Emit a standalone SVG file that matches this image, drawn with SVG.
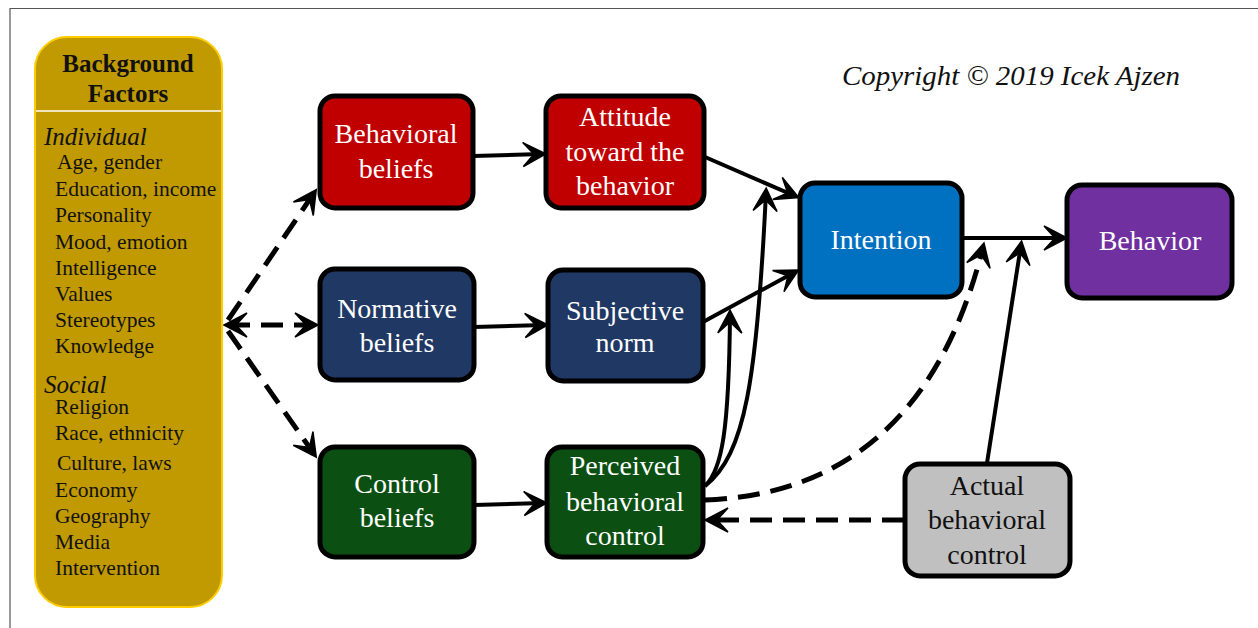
<svg xmlns="http://www.w3.org/2000/svg" width="1258" height="628" viewBox="0 0 1258 628">
<style>
  .node { stroke: #000; stroke-width: 5; }
  .lbl { font-family: "Liberation Serif", "Times New Roman", serif; font-size: 28px; fill: #fff; text-anchor: middle; }
  .lbl.dark { fill: #111; }
  .bf { font-family: "Liberation Serif", "Times New Roman", serif; font-size: 21.5px; fill: #111; }
  .bfh { font-family: "Liberation Serif", "Times New Roman", serif; font-size: 25px; font-weight: bold; fill: #111; text-anchor: middle; }
  .bfi { font-family: "Liberation Serif", "Times New Roman", serif; font-size: 25px; font-style: italic; fill: #111; }
  .solid { fill: none; stroke: #000; stroke-width: 4; marker-end: url(#ah); }
  .dash { fill: none; stroke: #000; stroke-width: 5; stroke-dasharray: 22 11; marker-end: url(#ah); }
</style>
<defs>
  <marker id="ah" markerUnits="userSpaceOnUse" markerWidth="32" markerHeight="32" viewBox="-28 -16 32 32" refX="-4" refY="0" orient="auto-start-reverse" overflow="visible">
    <path d="M0,0 L-23,-12 L-12,0 L-23,12 Z" fill="#000" stroke="#000" stroke-width="1.5" stroke-linejoin="miter"/>
  </marker>
</defs>
<rect width="1258" height="628" fill="#fff"/>
<path d="M10,628 V8.5 H1258" fill="none" stroke="#555" stroke-width="1.2"/>

<text x="842" y="85" font-family="Liberation Serif, serif" font-style="italic" font-size="28" fill="#111" textLength="338" lengthAdjust="spacingAndGlyphs">Copyright © 2019 Icek Ajzen</text>

<g id="connectors">
  <!-- background factors -->
  <path class="dash" d="M228,325 H314" style="marker-start:url(#ah)"/>
  <path class="dash" d="M228,320 L314,193"/>
  <path class="dash" d="M228,331 L314,454"/>
  <!-- beliefs to determinants -->
  <path class="solid" d="M473,156 L542,154"/>
  <path class="solid" d="M474,327 L544,325"/>
  <path class="solid" d="M474,505 L543,503"/>
  <!-- determinants to intention -->
  <path class="solid" d="M705,157 L795,196"/>
  <path class="solid" d="M703,322 L795,272"/>
  <path class="solid" d="M705,486 C745,455 757,380 766,192"/>
  <path class="solid" d="M705,486 C722,470 729,430 730,314"/>
  <!-- intention to behavior -->
  <path class="solid" d="M962,238 L1063,238"/>
  <path class="dash" d="M705,500 C840,495 940,420 983,247"/>
  <path class="solid" d="M987,463 L1021,245"/>
  <path class="dash" d="M904,520 H709"/>
</g>

<g id="background-factors">
  <rect x="35" y="37" width="187" height="570" rx="32" fill="#C09A00" stroke="#FFCC00" stroke-width="2"/>
  <line x1="36" y1="111" x2="221" y2="111" stroke="#fff" stroke-width="1.5"/>
  <text class="bfh" x="128" y="72">Background</text>
  <text class="bfh" x="128" y="102">Factors</text>
  <text class="bfi" x="44" y="145">Individual</text>
  <text class="bf" x="57" y="169">Age, gender</text>
  <text class="bf" x="55" y="196">Education, income</text>
  <text class="bf" x="55" y="222">Personality</text>
  <text class="bf" x="55" y="249">Mood, emotion</text>
  <text class="bf" x="55" y="275">Intelligence</text>
  <text class="bf" x="55" y="301">Values</text>
  <text class="bf" x="55" y="327">Stereotypes</text>
  <text class="bf" x="55" y="353">Knowledge</text>
  <text class="bfi" x="44" y="393">Social</text>
  <text class="bf" x="55" y="414">Religion</text>
  <text class="bf" x="55" y="440">Race, ethnicity</text>
  <text class="bf" x="57" y="470">Culture, laws</text>
  <text class="bf" x="55" y="497">Economy</text>
  <text class="bf" x="55" y="523">Geography</text>
  <text class="bf" x="55" y="549">Media</text>
  <text class="bf" x="55" y="575">Intervention</text>
</g>

<g id="behavioral-beliefs">
  <rect class="node" x="320" y="96" width="153" height="112" rx="15" fill="#C00000"/>
  <text class="lbl" x="396" y="143">Behavioral</text>
  <text class="lbl" x="396" y="178">beliefs</text>
</g>
<g id="attitude">
  <rect class="node" x="546" y="96" width="158" height="112" rx="15" fill="#C00000"/>
  <text class="lbl" x="625" y="126">Attitude</text>
  <text class="lbl" x="625" y="161">toward the</text>
  <text class="lbl" x="625" y="195">behavior</text>
</g>
<g id="normative-beliefs">
  <rect class="node" x="320" y="269" width="154" height="111" rx="15" fill="#203864"/>
  <text class="lbl" x="397" y="318">Normative</text>
  <text class="lbl" x="397" y="352">beliefs</text>
</g>
<g id="subjective-norm">
  <rect class="node" x="548" y="270" width="155" height="111" rx="15" fill="#203864"/>
  <text class="lbl" x="625" y="320">Subjective</text>
  <text class="lbl" x="625" y="352">norm</text>
</g>
<g id="control-beliefs">
  <rect class="node" x="320" y="447" width="154" height="110" rx="15" fill="#0B5012"/>
  <text class="lbl" x="397" y="493">Control</text>
  <text class="lbl" x="397" y="527">beliefs</text>
</g>
<g id="perceived-behavioral-control">
  <rect class="node" x="547" y="447" width="156" height="110" rx="15" fill="#0B5012"/>
  <text class="lbl" x="625" y="475">Perceived</text>
  <text class="lbl" x="625" y="511">behavioral</text>
  <text class="lbl" x="625" y="545">control</text>
</g>
<g id="intention">
  <rect class="node" x="800" y="183" width="162" height="114" rx="15" fill="#0070C0"/>
  <text class="lbl" x="881" y="249">Intention</text>
</g>
<g id="behavior">
  <rect class="node" x="1067" y="185" width="165" height="113" rx="15" fill="#7030A0"/>
  <text class="lbl" x="1150" y="250">Behavior</text>
</g>
<g id="actual-behavioral-control">
  <rect class="node" x="905" y="464" width="165" height="112" rx="15" fill="#C0C0C0"/>
  <text class="lbl dark" x="987" y="495">Actual</text>
  <text class="lbl dark" x="987" y="529">behavioral</text>
  <text class="lbl dark" x="987" y="564">control</text>
</g>
</svg>
